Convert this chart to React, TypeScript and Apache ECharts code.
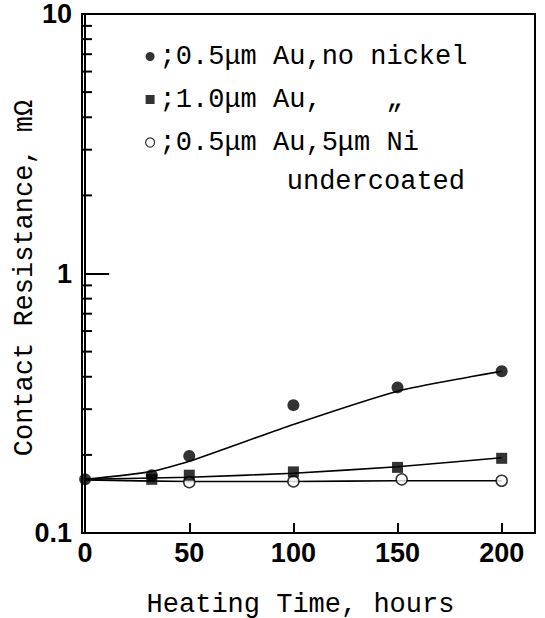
import React, { useEffect, useRef } from "react";
import * as echarts from "echarts";

// ---- data ----
const xLabelValues = [0, 50, 100, 150, 200];
const xTickValues = [50, 100, 150, 200];
const yLabelValues = [0.1, 1, 10];
const yMajorTicks = [1];
const yMinorTicks = [0.2, 0.3, 0.4, 0.5, 0.6, 0.7, 0.8, 0.9, 2, 3, 4, 5, 6, 7, 8, 9];

const yTitle = "Contact Resistance, mΩ";
const xTitle = "Heating Time, hours";
const nameA = ";0.5μm Au,no nickel";
const nameB = ";1.0μm Au,\u00A0\u00A0\u00A0\u00A0\u201E";
const nameC = ";0.5μm Au,5μm Ni";
const noteC = "undercoated";

// measured points
const aX = [0, 32, 50, 100, 150, 200];
const aY = [0.161, 0.167, 0.198, 0.311, 0.364, 0.42];
const bX = [32, 50, 100, 150, 200];
const bY = [0.161, 0.167, 0.172, 0.179, 0.194];
const cX = [50, 100, 152, 200];
const cY = [0.157, 0.158, 0.161, 0.159];

// fitted curves drawn in the reference
const fitAX = [0, 31, 50, 100, 150, 185, 200];
const fitAY = [0.161, 0.172, 0.189, 0.262, 0.352, 0.4, 0.42];
const fitBX = [0, 50, 100, 150, 200];
const fitBY = [0.161, 0.164, 0.17, 0.18, 0.195];
const fitCX = [0, 50, 100, 150, 200];
const fitCY = [0.16, 0.158, 0.158, 0.159, 0.159];

const X_MIN = -1.5;
const X_MAX = 216;
const MONO = "'Liberation Mono', 'DejaVu Sans Mono', monospace";
const SANS = "'Liberation Sans', Arial, sans-serif";
const MONO_SIZE = 27;

const zip = (xs: number[], ys: number[]) => xs.map((x, i) => [x, ys[i]]);

export default function App() {
  const ref = useRef<HTMLDivElement>(null);
  useEffect(() => {
    if (!ref.current) return;
    const chart = echarts.init(ref.current, undefined, { renderer: "svg" });
    const lineCommon = {
      type: "line",
      smooth: 0.2,
      showSymbol: false,
      symbol: "none",
      lineStyle: { color: "#000", width: 1.6 },
      silent: true,
      z: 2,
    };
    chart.setOption({
      animation: false,
      backgroundColor: "#fff",
      grid: {
        left: 82,
        right: 10,
        top: 14,
        bottom: 85,
        outerBoundsMode: "none",
        containLabel: false,
        show: true,
        borderColor: "#000",
        borderWidth: 2,
        backgroundColor: "transparent",
      },
      legend: {
        orient: "vertical",
        left: 140,
        top: 38,
        itemGap: 16,
        itemWidth: 9,
        itemHeight: 9,
        selectedMode: false,
        textStyle: { fontFamily: MONO, fontSize: MONO_SIZE, color: "#000", lineHeight: 27 },
        data: [
          { name: nameA, icon: "circle", itemStyle: { color: "#000" } },
          { name: nameB, icon: "rect", itemStyle: { color: "#000" } },
          {
            name: nameC,
            icon: "circle",
            itemStyle: { color: "#fff", borderColor: "#000", borderWidth: 1.2 },
          },
        ],
      },
      graphic: [
        {
          type: "text",
          x: 465,
          y: 182,
          style: {
            text: noteC,
            font: `${MONO_SIZE}px ${MONO}`,
            fill: "#000",
            textAlign: "right",
            textVerticalAlign: "middle",
          },
        },
        {
          type: "text",
          x: 25,
          y: 278,
          rotation: Math.PI / 2,
          style: {
            text: yTitle,
            font: `${MONO_SIZE}px ${MONO}`,
            fill: "#000",
            textAlign: "center",
            textVerticalAlign: "middle",
          },
        },
      ],
      xAxis: {
        type: "value",
        min: X_MIN,
        max: X_MAX,
        name: xTitle,
        nameLocation: "middle",
        nameGap: 58,
        nameTextStyle: { fontFamily: MONO, fontSize: MONO_SIZE, color: "#000", padding: [0, 16, 0, 0] },
        axisLine: { show: true, lineStyle: { color: "#000", width: 2 } },
        axisTick: {
          show: true,
          inside: true,
          length: 10,
          customValues: xTickValues,
          lineStyle: { color: "#000", width: 2 },
        },
        axisLabel: {
          customValues: xLabelValues,
          fontFamily: SANS,
          fontWeight: "bold",
          fontSize: 27,
          color: "#000",
          margin: 6,
        },
        splitLine: { show: false },
      },
      yAxis: {
        type: "log",
        logBase: 10,
        min: 0.1,
        max: 10,
        axisLine: { show: true, lineStyle: { color: "#000", width: 2 } },
        axisTick: {
          show: true,
          inside: true,
          length: 24,
          customValues: yMajorTicks,
          lineStyle: { color: "#000", width: 2 },
        },
        axisLabel: {
          customValues: yLabelValues,
          formatter: (v: number) => (v < 0.5 ? "0.1" : String(Math.round(v))),
          fontFamily: SANS,
          fontWeight: "bold",
          fontSize: 27,
          color: "#000",
          margin: 10,
        },
        splitLine: { show: false },
        minorTick: { show: false },
      },
      series: [
        {
          type: "custom",
          silent: true,
          data: yMinorTicks.map((v) => [X_MIN, v]),
          renderItem: (params: any, api: any) => {
            const p = api.coord([api.value(0), api.value(1)]);
            return {
              type: "line",
              shape: { x1: p[0], y1: p[1], x2: p[0] + 10, y2: p[1] },
              style: { stroke: "#000", lineWidth: 2 },
            };
          },
          z: 3,
        },
        { ...lineCommon, data: zip(fitAX, fitAY) },
        { ...lineCommon, data: zip(fitBX, fitBY) },
        { ...lineCommon, data: zip(fitCX, fitCY) },
        {
          name: nameC,
          type: "scatter",
          symbol: "circle",
          symbolSize: 11,
          itemStyle: { color: "#fff", borderColor: "#000", borderWidth: 1.5 },
          data: zip(cX, cY),
          z: 4,
        },
        {
          name: nameB,
          type: "scatter",
          symbol: "rect",
          symbolSize: 11,
          itemStyle: { color: "#000" },
          data: zip(bX, bY),
          z: 5,
        },
        {
          name: nameA,
          type: "scatter",
          symbol: "circle",
          symbolSize: 12,
          itemStyle: { color: "#000" },
          data: zip(aX, aY),
          z: 6,
        },
      ],
    });
    return () => chart.dispose();
  }, []);
  return <div ref={ref} style={{ width: 545, height: 618, position: "absolute", left: 0, top: 0 }} />;
}
